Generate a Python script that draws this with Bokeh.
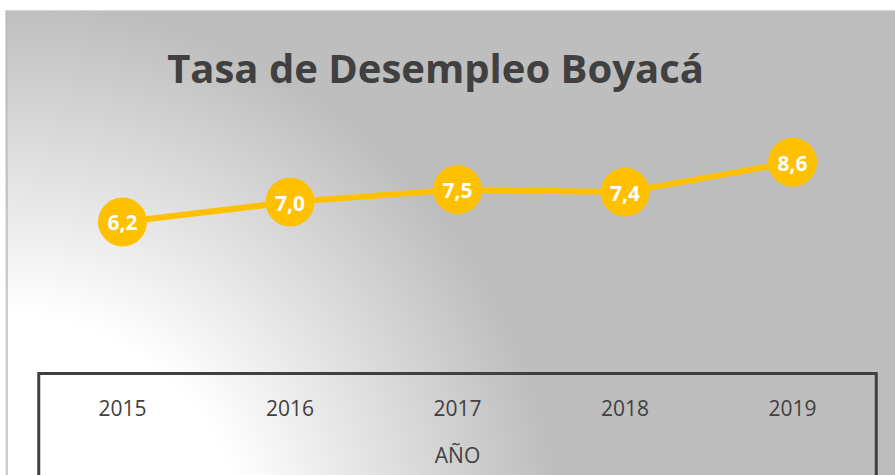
import numpy as np
from bokeh.plotting import figure
from bokeh.models import Range1d
from bokeh.core.properties import value
from bokeh.embed import file_html
from bokeh.resources import INLINE

# ---- data ----
years = ["2015", "2016", "2017", "2018", "2019"]
rates = [6.2, 7.0, 7.5, 7.4, 8.6]
rate_labels = [f"{v:.1f}".replace(".", ",") for v in rates]
chart_title = "Tasa de Desempleo Boyacá"
axis_title = "AÑO"

idx = list(range(len(years)))

# ---- layout constants ----
W, H = 895, 475
LEFT, TOP = 5, 10
X0, X1 = -0.6985, 4.6149
Y0, Y1 = -3.981, 14.694
FONT = value("Open Sans")
DARK = "#404040"
GOLD = "#FFC000"

p = figure(width=W, height=H, x_range=Range1d(X0, X1), y_range=Range1d(Y0, Y1),
           x_axis_type=None, y_axis_type=None, toolbar_location=None,
           output_backend="svg", min_border_left=LEFT, min_border_right=0,
           min_border_bottom=0, min_border_top=TOP, border_fill_color="white",
           outline_line_color=None, background_fill_color="#BEBEBE")
p.title.visible = False
# pixel-like helper ranges for decorations (left/top of the page = origin)
p.extra_x_ranges = {"px": Range1d(LEFT, W)}
p.extra_y_ranges = {"px": Range1d(H, TOP)}

# ---- radial background gradient (style only) ----
GW, GH = W - LEFT, H - TOP
gx = LEFT + (np.arange(GW) + 0.5)
gy = H - (np.arange(GH) + 0.5)
GX, GY = np.meshgrid(gx, gy)
dist = np.hypot(GX - 0, GY - 560)
t = np.clip((dist - 250) / 310, 0, 1)
c = (255 - 65 * t).astype(np.uint8)
img = np.empty((GH, GW), dtype=np.uint32)
view = img.view(dtype=np.uint8).reshape((GH, GW, 4))
view[..., 0] = c
view[..., 1] = c
view[..., 2] = c
view[..., 3] = 255
p.image_rgba(image=[img], x=X0, y=Y0, dw=X1 - X0, dh=Y1 - Y0)

# chart-area left border
p.line(x=[6.5, 6.5], y=[TOP, H], x_range_name="px", y_range_name="px",
       line_color="#BDBDBD", line_width=1.5)

# ---- category axis box ----
p.line(x=[-0.5, -0.5, len(years) - 0.5, len(years) - 0.5], y=[490, 373, 373, 490],
       y_range_name="px", line_color=DARK, line_width=3, line_join="miter")
p.text(x=idx, y=[407] * len(years), text=years, y_range_name="px",
       text_font=FONT, text_font_size="21px", text_color=DARK,
       text_align="center", text_baseline="middle")
p.text(x=[(len(years) - 1) / 2], y=[454], text=[axis_title], y_range_name="px",
       text_font=FONT, text_font_size="21px", text_color=DARK,
       text_align="center", text_baseline="middle")

# ---- title ----
p.text(x=[435], y=[67], text=[chart_title], x_range_name="px", y_range_name="px",
       text_font=FONT, text_font_style="bold", text_font_size="40px",
       text_color=DARK, text_align="center", text_baseline="middle")

# ---- series ----
p.line(idx, rates, line_color=GOLD, line_width=6)
p.scatter(idx, rates, size=48, fill_color=GOLD, line_color=GOLD)
p.text(idx, rates, text=rate_labels, text_font=FONT, text_font_style="bold",
       text_font_size="21px", text_color="white", text_align="center",
       text_baseline="middle", y_offset=1)

open("out.html", "w").write(file_html(p, INLINE))
